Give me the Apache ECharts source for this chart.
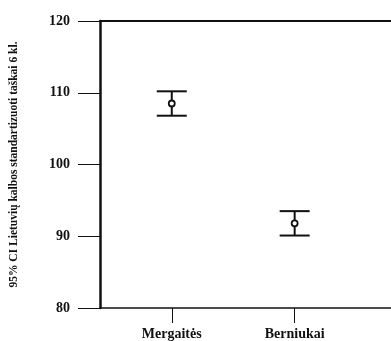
<!DOCTYPE html>
<html>
<head>
<meta charset="utf-8">
<script src="https://cdn.jsdelivr.net/npm/echarts@6/dist/echarts.min.js"></script>
<style>
  html, body { margin: 0; padding: 0; background: #fff; }
  #chart { width: 391px; height: 341px; }
</style>
</head>
<body>
<div id="chart"></div>
<script>
// Group labels and 95% confidence intervals of the standardized scores
const categories = ['Mergaitės', 'Berniukai'];
const means = [108.5, 91.8];
const lowerCI = [106.8, 90.1];
const upperCI = [110.2, 93.5];
const yTicks = [80, 90, 100, 110, 120];
const yTitle = '95% CI Lietuvių kalbos standartizuoti taškai 6 kl.';

// category positions on a numeric x scale (1, 2)
const catPos = categories.map((c, i) => i + 1);
const intervalData = categories.map((c, i) => [catPos[i], lowerCI[i], upperCI[i], means[i]]);

const serif = '"Liberation Serif", "DejaVu Serif", serif';
const ink = '#111';

const chart = echarts.init(document.getElementById('chart'), null, { renderer: 'canvas' });

chart.setOption({
  animation: false,
  backgroundColor: '#fff',
  grid: { left: 95, right: 0, top: 21, bottom: 29, containLabel: false },
  xAxis: [
    {
      type: 'value',
      min: 0.416,
      max: 2.784,
      position: 'bottom',
      axisLine: { show: true, onZero: false, lineStyle: { color: ink, width: 1.5 } },
      axisTick: { show: true, customValues: catPos, length: 15, lineStyle: { color: ink, width: 1 } },
      axisLabel: {
        customValues: catPos,
        formatter: v => categories[Math.round(v) - 1] || '',
        margin: 19,
        color: ink,
        fontFamily: serif,
        fontSize: 14,
        fontWeight: 'bold'
      },
      splitLine: { show: false }
    },
    {
      type: 'value',
      min: 0.416,
      max: 2.784,
      position: 'top',
      axisLine: { show: true, onZero: false, lineStyle: { color: ink, width: 2 } },
      axisTick: { show: false },
      axisLabel: { show: false },
      splitLine: { show: false }
    }
  ],
  yAxis: {
    type: 'value',
    min: yTicks[0],
    max: yTicks[yTicks.length - 1],
    interval: 10,
    name: yTitle,
    nameLocation: 'middle',
    nameGap: 80,
    nameRotate: 90,
    nameTextStyle: { color: ink, fontFamily: serif, fontSize: 11.5, fontWeight: 'bold' },
    axisLine: { show: true, onZero: false, lineStyle: { color: ink, width: 2.5 } },
    axisTick: { show: true, length: 22, lineStyle: { color: ink, width: 1 } },
    axisLabel: {
      margin: 30,
      color: ink,
      fontFamily: serif,
      fontSize: 14,
      fontWeight: 'bold'
    },
    splitLine: { show: false }
  },
  series: [{
    type: 'custom',
    xAxisIndex: 0,
    data: intervalData,
    renderItem: function (params, api) {
      const x = api.value(0);
      const lo = api.coord([x, api.value(1)]);
      const hi = api.coord([x, api.value(2)]);
      const mid = api.coord([x, api.value(3)]);
      const half = 15;
      const stroke = { stroke: ink, lineWidth: 2 };
      return {
        type: 'group',
        children: [
          { type: 'line', shape: { x1: hi[0], y1: hi[1], x2: lo[0], y2: lo[1] }, style: stroke },
          { type: 'line', shape: { x1: hi[0] - half, y1: hi[1], x2: hi[0] + half, y2: hi[1] }, style: stroke },
          { type: 'line', shape: { x1: lo[0] - half, y1: lo[1], x2: lo[0] + half, y2: lo[1] }, style: stroke },
          { type: 'circle', shape: { cx: mid[0], cy: mid[1], r: 3 }, style: { fill: '#fff', stroke: ink, lineWidth: 1.8 } }
        ]
      };
    }
  }]
});
</script>
</body>
</html>
